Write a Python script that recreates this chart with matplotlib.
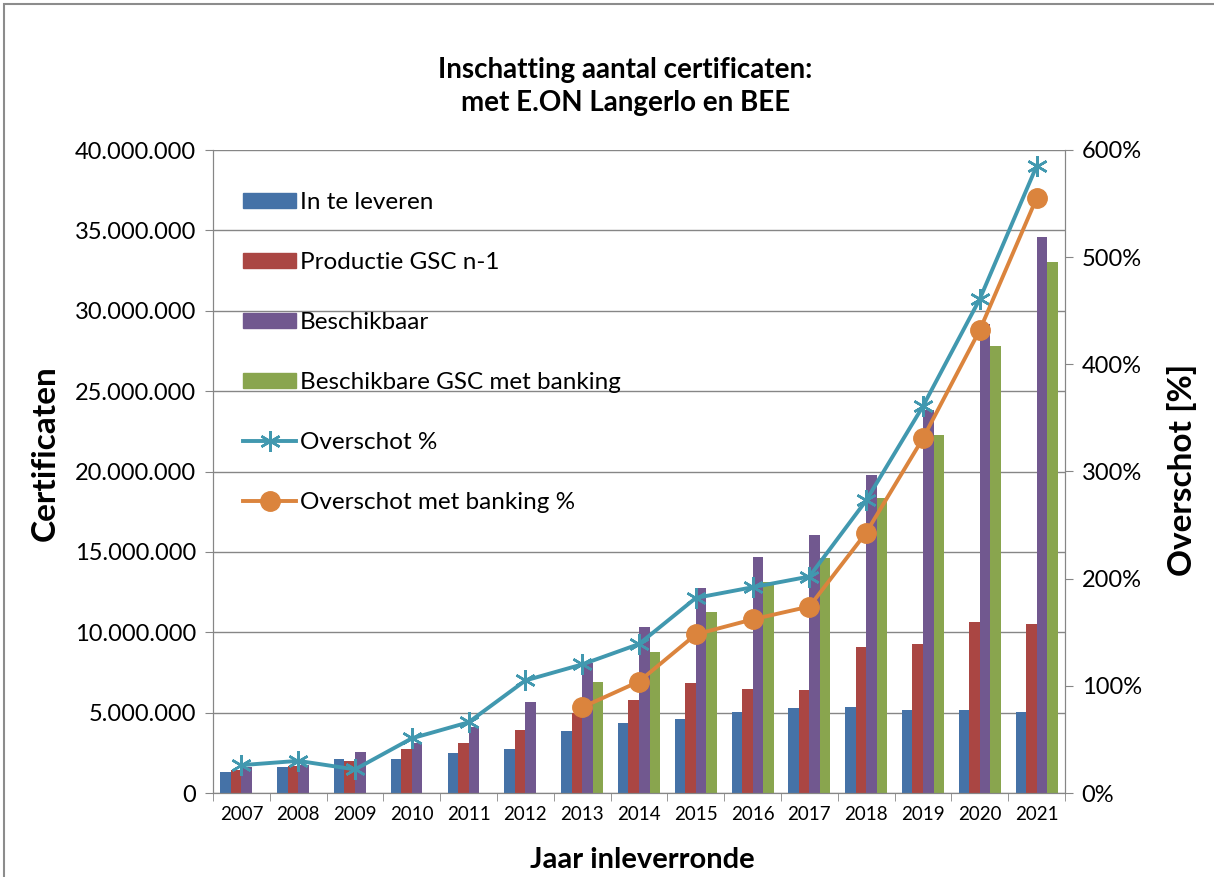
import numpy as np
import matplotlib
matplotlib.use("Agg")
from matplotlib import pyplot as plt
from matplotlib.ticker import FuncFormatter, FixedLocator
from matplotlib.patches import Rectangle

plt.rcParams["font.family"] = ["Lato", "DejaVu Sans"]

# data
jaren = ["2007", "2008", "2009", "2010", "2011", "2012", "2013", "2014",
         "2015", "2016", "2017", "2018", "2019", "2020", "2021"]
in_te_leveren = [1.29, 1.60, 2.10, 2.10, 2.49, 2.72, 3.86, 4.34, 4.58, 5.04, 5.27, 5.35, 5.19, 5.19, 5.02]
productie = [1.46, 1.68, 2.00, 2.74, 3.13, 3.92, 4.96, 5.77, 6.82, 6.47, 6.39, 9.10, 9.24, 10.62, 10.53]
beschikbaar = [1.59, 1.74, 2.57, 3.13, 4.09, 5.68, 8.07, 10.31, 12.77, 14.68, 16.05, 19.77, 23.80, 29.20, 34.58]
beschikbaar_banking = [0, 0, 0, 0, 0, 0, 6.89, 8.79, 11.26, 13.15, 14.60, 18.34, 22.29, 27.80, 33.06]
overschot = [26, 30, 22, 51, 66, 105, 120, 139, 182, 192, 202, 273, 361, 461, 585]
overschot_banking = [np.nan] * 6 + [80, 104, 148, 162, 174, 243, 331, 432, 555]

series = [
    ("In te leveren", in_te_leveren, "#4572A7"),
    ("Productie GSC n-1", productie, "#AA4643"),
    ("Beschikbaar", beschikbaar, "#71588F"),
    ("Beschikbare GSC met banking", beschikbaar_banking, "#89A54E"),
]

grijs = "#868686"
fig = plt.figure(figsize=(12.14, 8.77), dpi=100)
ax = fig.add_axes([213 / 1214, 1 - 793 / 877, (1065 - 213) / 1214, (793 - 150) / 877])
ax2 = ax.twinx()

x = np.arange(len(jaren))
w = 0.185
for i, (naam, vals, kleur) in enumerate(series):
    ax.bar(x + (i - 1.5) * w, np.array(vals) * 1e6, w, color=kleur, label=naam, zorder=2)

l1, = ax2.plot(x, overschot, color="#4198AF", lw=2.8, marker=(6, 2, 0),
               markersize=15, markeredgewidth=1.8, label="Overschot %", zorder=3)
l2, = ax2.plot(x, overschot_banking, color="#DB843D", lw=2.8, marker="o",
               markersize=14, label="Overschot met banking %", zorder=3)

ax.set_xlim(-0.5, len(jaren) - 0.5)
ax.set_ylim(0, 40e6)
ax2.set_ylim(0, 600)
ax.set_yticks(np.arange(0, 40e6 + 1, 5e6))
ax.yaxis.set_major_formatter(FuncFormatter(lambda v, p: f"{int(v):,}".replace(",", ".")))
ax2.set_yticks(np.arange(0, 601, 100))
ax2.yaxis.set_major_formatter(FuncFormatter(lambda v, p: f"{int(v)}%"))

ax.set_xticks(x)
ax.set_xticklabels(jaren, fontsize=13.5)
ax.xaxis.set_minor_locator(FixedLocator(np.arange(-0.5, len(jaren), 1)))
ax.tick_params(axis="x", which="major", length=0, pad=9)
ax.tick_params(axis="x", which="minor", length=6, color=grijs)
ax.tick_params(axis="y", labelsize=17, length=6, color=grijs, pad=6)
ax2.tick_params(axis="y", labelsize=17, length=6, color=grijs, pad=6)

ax.grid(axis="y", color=grijs, lw=1, zorder=0)
ax.set_axisbelow(True)
for a in (ax, ax2):
    a.spines["top"].set_visible(False)
    for s in ("left", "right", "bottom"):
        a.spines[s].set_color(grijs)

handles = [plt.Rectangle((0, 0), 1, 1, color=c) for _, _, c in series] + [l1, l2]
labels = [n for n, _, _ in series] + [l1.get_label(), l2.get_label()]
ax2.legend(handles, labels, loc="upper left", bbox_to_anchor=(0.035, 0.935), frameon=False,
           fontsize=17.5, labelspacing=1.61, handlelength=2.2, handleheight=0.55,
           handletextpad=0.15, borderaxespad=0, borderpad=0)

fig.text(0.515, 1 - 70 / 877, "Inschatting aantal certificaten:", ha="center", va="center",
         fontsize=20, fontweight="bold")
fig.text(0.515, 1 - 103 / 877, "met E.ON Langerlo en BEE", ha="center", va="center",
         fontsize=20, fontweight="bold")
fig.text(45 / 1214, 1 - 453 / 877, "Certificaten", rotation=90, ha="center", va="center",
         fontsize=24, fontweight="bold")
fig.text(1182 / 1214, 1 - 470 / 877, "Overschot [%]", rotation=90, ha="center", va="center",
         fontsize=24, fontweight="bold")
fig.text(642 / 1214, 1 - 860 / 877, "Jaar inleverronde", ha="center", va="center",
         fontsize=21, fontweight="bold")

fig.patches.append(Rectangle((4 / 1214, -0.1), 1.2, 1 - 4 / 877 + 0.1, transform=fig.transFigure,
                             fill=False, edgecolor="#8c8c8c", lw=1.5))

fig.savefig("out.png", dpi=100)
